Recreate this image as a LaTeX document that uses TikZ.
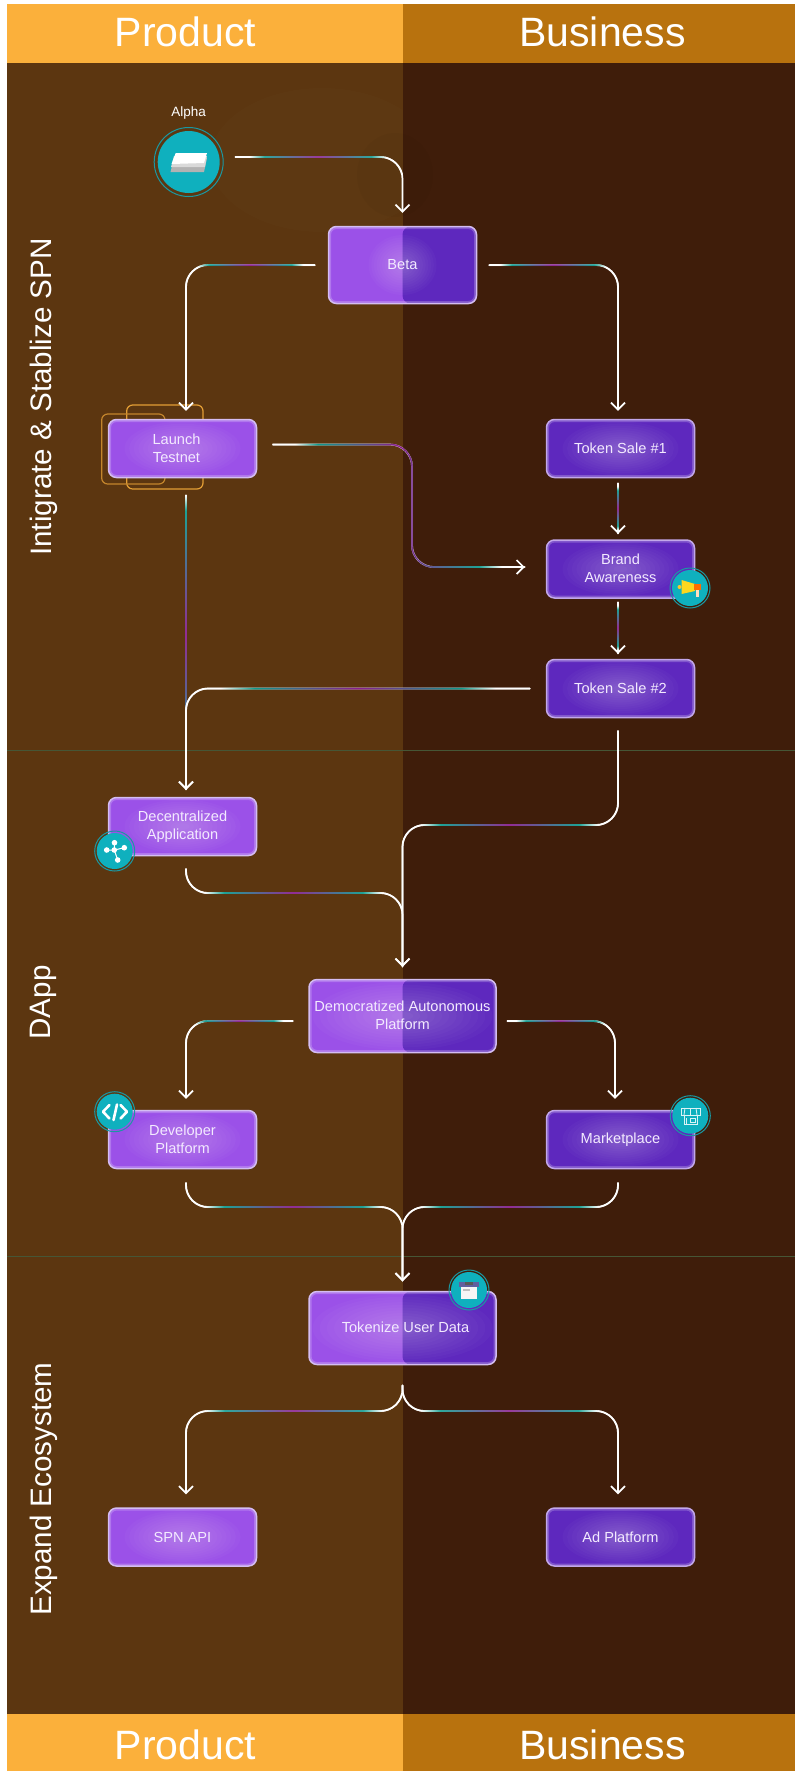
\documentclass[tikz,border=0pt]{standalone}
\usepackage{fontspec}
\setmainfont{Liberation Sans}
\usetikzlibrary{arrows.meta,decorations.markings,calc}
\definecolor{hl}{HTML}{FBB03B}
\definecolor{hr}{HTML}{B8720E}
\definecolor{bl}{HTML}{5C3610}
\definecolor{br}{HTML}{3F1D0A}
\definecolor{pl}{HTML}{9B51E8}
\definecolor{pr}{HTML}{5E28BE}
\definecolor{edgec}{HTML}{D4BDF2}
\definecolor{gteal}{HTML}{0E9C8E}
\definecolor{gpurple}{HTML}{8B1E8E}
\definecolor{badgec}{HTML}{0FB0BE}
\definecolor{ringc}{HTML}{1A98A2}
\definecolor{lanec}{HTML}{465636}
\definecolor{txt}{HTML}{F3EAFF}
\newcommand{\upt}[1]{\raisebox{1.5pt}{#1}}
\newcommand{\glowfill}[2]{%
  \foreach \gs in {1,0.92,...,0.1}
    \fill[white,opacity=.024] (path picture bounding box.center) ellipse ({#1*\gs*1pt} and {#2*\gs*1pt});%
}
\newcommand{\gradmark}{%
  \pgfgettransformentries\gA\gB\gC\gD\gX\gY
  \ifnum\gAxis=0 \pgfmathsetmacro\gT{(\gX-\gLo)/(\gHi-\gLo)}%
  \else \pgfmathsetmacro\gT{(-1*\gY-\gLo)/(\gHi-\gLo)}\fi
  \pgfmathsetmacro\gE{1-\gS}%
  \ifdim\gT pt>0pt \ifdim\gT pt<1pt
    \ifdim\gT pt<\gS pt
      \pgfmathsetmacro\gP{max(0,100*(2*\gT/\gS-1))}\colorlet{gc}{gteal!\gP!white}%
    \else\ifdim\gT pt<0.5pt
      \pgfmathsetmacro\gP{100*(\gT-\gS)/(0.5-\gS)}\colorlet{gc}{gpurple!\gP!gteal}%
    \else\ifdim\gT pt<\gE pt
      \pgfmathsetmacro\gP{100*(\gT-0.5)/(0.5-\gS)}\colorlet{gc}{gteal!\gP!gpurple}%
    \else
      \pgfmathsetmacro\gP{max(0,100*(2*(1-\gT)/\gS-1))}\colorlet{gc}{gteal!\gP!white}%
    \fi\fi\fi
    \fill[gc] (0,0) circle (1pt);
  \fi\fi
}
\tikzset{
  gradx/.code n args={3}{\def\gAxis{0}\def\gLo{#1}\def\gHi{#2}\def\gS{#3}},
  grady/.code n args={3}{\def\gAxis{1}\def\gLo{#1}\def\gHi{#2}\def\gS{#3}},
  conn/.style={draw=white, line width=1.7pt, rounded corners=22pt, line join=round,
    -{Straight Barb[length=7pt,width=14pt,line width=1.7pt]},
    postaction={decorate,decoration={markings,
      mark=between positions 0 and 1 step 1pt with {\gradmark}}}},
  proc/.style n args={2}{rectangle, rounded corners=8pt, draw=edgec, line width=1.5pt,
    minimum width=148pt, minimum height=58pt, inner sep=0pt, align=center, text=txt,
    font=\fontsize{14.6}{18}\selectfont,
    path picture={
      \glowfill{#1}{#2}
      \draw[white,opacity=.22,line width=5pt,rounded corners=8pt]
        (path picture bounding box.south west) rectangle (path picture bounding box.north east);
    }},
  procl/.style={proc={58}{27}, fill=pl},
  procr/.style={proc={58}{27}, fill=pr, draw=edgec!85!pr},
  procs/.style n args={2}{rectangle, rounded corners=8pt, draw=edgec, line width=1.5pt,
    inner sep=0pt, align=center, text=txt, font=\fontsize{14.6}{18}\selectfont,
    fill=pl, minimum width=187pt, minimum height=73pt,
    path picture={
      \fill[pr] (path picture bounding box.north) rectangle (path picture bounding box.south east);
      \glowfill{#1}{#2}
      \draw[white,opacity=.22,line width=5pt,rounded corners=8pt]
        (path picture bounding box.south west) rectangle (path picture bounding box.north east);
    }},
  band/.style={font=\fontsize{41}{45}\selectfont, text=white, inner sep=0pt},
  lanetxt/.style={font=\fontsize{29.6}{34}\selectfont, text=white, rotate=90, inner sep=0pt},
  badge/.style={circle, fill=badgec, minimum size=36pt, inner sep=0pt},
  ringb/.style={draw=ringc, line width=1pt},
  frameo/.style={rounded corners=6pt, line width=1.2pt},
}
\begin{document}
\begin{tikzpicture}[x=1pt,y=-1pt]
\useasboundingbox (0,0) rectangle (795,1773);
\fill[white] (0,0) rectangle (795,1773);
% lanes
\fill[bl] (7,63) rectangle (403,1714);
\fill[br] (403,63) rectangle (795,1714);
\fill[hl] (7,4) rectangle (403,63);
\fill[hr] (403,4) rectangle (795,63);
\fill[hl] (7,1714) rectangle (403,1771);
\fill[hr] (403,1714) rectangle (795,1771);
\draw[lanec,line width=1pt] (7,750) -- (795,750);
\draw[lanec,line width=1pt] (7,1256.5) -- (795,1256.5);
% faint halo
\begin{scope}
\clip (7,63) rectangle (403,400);
\fill[white,opacity=.012] (322,160) ellipse (112pt and 72pt);
\end{scope}
\fill[black,opacity=.025] (395,175) ellipse (38pt and 42pt);
% headers
\node[band] (h1) at (185.5,32) {Product};
\node[band] (h2) at (602.5,32) {Business};
\node[band] (f1) at (185.5,1745) {Product};
\node[band] (f2) at (602.5,1745) {Business};
\node[lanetxt] (l1) at (43.5,397) {Intigrate \& Stablize SPN};
\node[lanetxt] (l2) at (43.5,1002.5) {DApp};
\node[lanetxt] (l3) at (43.5,1489) {Expand Ecosystem};
% frames behind Launch Testnet
\draw[frameo,draw=hl!85!bl] (126.7,405) rectangle (203,489);
\draw[frameo,draw=hl!65!bl] (101.7,414) rectangle (165,484);
% alpha
\node[text=white,font=\fontsize{13.5}{16}\selectfont,inner sep=0pt] (alphat) at (188.7,113) {Alpha};
\node[badge,minimum size=62pt] (alpha) at (188.7,162) {};
\draw[ringb] (alpha) circle (34.5pt);
\fill[gray!60] (174,158) -- (207,158) -- (204,172) -- (170.5,172) -- cycle;
\fill[gray!30] (174,156) -- (207,156) -- (205,167) -- (171,167) -- cycle;
\fill[white] (175.7,153) -- (207,153) -- (204,163) -- (171.5,164) -- cycle;
% process boxes
\node[procs={34}{30},minimum width=148pt,minimum height=77pt] (beta) at (402.5,265) {Beta};
\node[procl] (launch) at (182.5,448.5) {\hspace*{-12pt}Launch\\\hspace*{-12pt}Testnet};
\node[procr] (tone) at (620.5,448.5) {Token Sale \#1};
\node[procr] (brand) at (620.5,569) {\upt{Brand}\\\upt{Awareness}};
\node[procr] (ttwo) at (620.5,688.5) {Token Sale \#2};
\node[procl] (dec) at (182.5,826.5) {Decentralized\\Application};
\node[procs={90}{34}] (dap) at (402.5,1016) {\upt{Democratized Autonomous}\\\upt{Platform}};
\node[procl] (dev) at (182.5,1139.5) {Developer\\Platform};
\node[procr] (mkt) at (620.5,1139.5) {Marketplace};
\node[procs={90}{34}] (tok) at (402.5,1328) {\hspace*{6pt}\upt{Tokenize User Data}};
\node[procl] (spn) at (182.5,1537) {SPN API};
\node[procr] (ad) at (620.5,1537) {Ad Platform};
% connectors
\draw[conn,gradx={235}{402}{.18}] ([xshift=15pt,yshift=5pt]alpha.east) -| ([yshift=13pt]beta.north);
\draw[conn,gradx={186}{315}{.18}] ([xshift=-13pt]beta.west) -| ([xshift=3.5pt,yshift=8pt]launch.north);
\draw[conn,gradx={489}{618}{.18}] ([xshift=12pt]beta.east) -| ([xshift=-2.5pt,yshift=8pt]tone.north);
\draw[conn,gradx={273}{525}{.18}] ([xshift=15pt,yshift=4pt]launch.east) -- (412,444.5) |- ([xshift=-21pt,yshift=2pt]brand.west);
\draw[conn,grady={480}{790}{.1}] ([xshift=3.5pt,yshift=-17pt]launch.south) -- ([xshift=3.5pt,yshift=7pt]dec.north);
\draw[conn,gradx={186}{530}{.2}] ([xshift=-16pt]ttwo.west) -| ([xshift=3.5pt,yshift=7pt]dec.north);
\draw[conn,grady={483}{534}{.15}] ([xshift=-2.5pt,yshift=-5pt]tone.south) -- ([xshift=-2.5pt,yshift=5.5pt]brand.north);
\draw[conn,grady={602}{654}{.15}] ([xshift=-2.5pt,yshift=-3.5pt]brand.south) -- ([xshift=-2.5pt,yshift=5pt]ttwo.north);
\coordinate (ja) at (402.5,825);
\draw[conn,gradx={402}{618}{.18}] ([xshift=-2.5pt,yshift=-12pt]ttwo.south) |- (ja) -- ([yshift=12pt]dap.north);
\coordinate (jb) at (402.5,893);
\draw[conn,gradx={186}{402}{.18}] ([xshift=3.5pt,yshift=-12pt]dec.south) |- (jb) -- ([yshift=12pt]dap.north);
\draw[conn,gradx={186}{293}{.18}] ([xshift=-15pt,yshift=-5pt]dap.west) -| ([xshift=3.5pt,yshift=11pt]dev.north);
\draw[conn,gradx={507}{615}{.18}] ([xshift=10pt,yshift=-5pt]dap.east) -| ([xshift=-5.5pt,yshift=11pt]mkt.north);
\coordinate (jc) at (402.5,1207);
\draw[conn,gradx={186}{402}{.18}] ([xshift=3.5pt,yshift=-13pt]dev.south) |- (jc) -- ([yshift=9.5pt]tok.north);
\draw[conn,gradx={402}{618}{.18}] ([xshift=-2.5pt,yshift=-13pt]mkt.south) |- (jc) -- ([yshift=9.5pt]tok.north);
\coordinate (jd) at (402.5,1411);
\draw[conn,gradx={186}{402}{.18}] ([yshift=-20pt]tok.south) -- (jd) -| ([xshift=3.5pt,yshift=13pt]spn.north);
\draw[conn,gradx={402}{618}{.18}] ([yshift=-20pt]tok.south) -- (jd) -| ([xshift=-2.5pt,yshift=13pt]ad.north);
% badge: megaphone
\node[badge] (bm) at (690,588) {};
\draw[ringb] (bm) circle (20pt);
\fill[hl!70!yellow] (679.5,587) circle (2pt);
\fill[hl!50!yellow] (681.5,580) -- (695,584) -- (695,591) -- (681.5,594) -- cycle;
\fill[orange!85!red] (694,583.5) rectangle (701,590);
\fill[orange!25!white] (695.5,590) rectangle (699,597);
% badge: network
\node[badge] (bn) at (114.7,851) {};
\draw[ringb] (bn) circle (20pt);
\draw[white,line width=1pt] (106.7,850) -- (114.3,850) -- (114.5,842.7)
  (114.3,850) -- (124.3,847.7) (114.3,850) -- (117.7,860);
\foreach \px/\py in {114.3/850,106.7/850,114.5/842.7,124.3/847.7,117.7/860}
  \fill[white] (\px,\py) circle (2.8pt);
% badge: code
\node[badge] (bc) at (114.7,1111.7) {};
\draw[ringb] (bc) circle (20pt);
\draw[white,line width=2.6pt,line cap=round,line join=round]
  (109.5,1105) -- (103,1111.7) -- (109.5,1118.5)
  (120.5,1105) -- (127,1111.7) -- (120.5,1118.5)
  (117,1104.5) -- (113.5,1120);
% badge: store
\node[badge] (bs) at (690.3,1115.7) {};
\draw[ringb] (bs) circle (20pt);
\draw[white!85!badgec,line width=1pt]
  (681,1108) rectangle (700,1115)
  (684,1115) -- (684,1124.5) -- (697.5,1124.5) -- (697.5,1115)
  (690,1118) rectangle (695.5,1122);
\draw[white!85!badgec,line width=.8pt] (685,1108)--(684,1115) (690.5,1108)--(690.5,1115) (696,1108)--(697,1115);
\draw[white!85!badgec,line width=1.2pt] (686.5,1118) -- (686.5,1124);
% badge: box
\node[badge] (bb) at (469,1290) {};
\draw[ringb] (bb) circle (20pt);
\fill[white!92!gray] (461,1286) rectangle (477,1299);
\fill[gray!75!blue] (459,1282) rectangle (479,1286.5);
\fill[black!65] (465,1282) rectangle (473,1285);
\fill[gray!50] (463,1289) rectangle (470,1291);
\end{tikzpicture}
\end{document}
